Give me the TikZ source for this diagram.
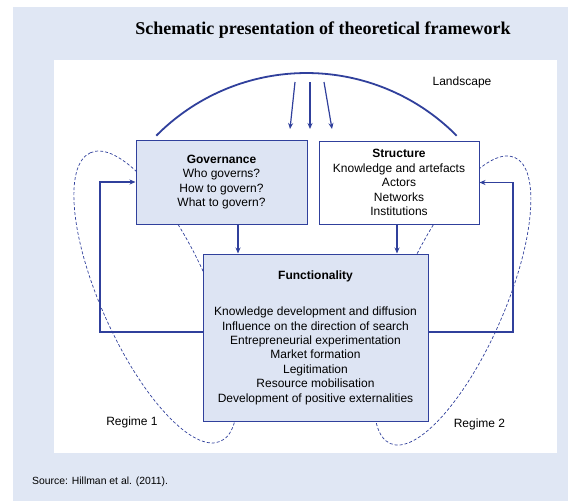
\documentclass[tikz,border=0pt]{standalone}
\usepackage{fontspec}
\setmainfont{Liberation Sans}
\newfontfamily\titlefont{Liberation Serif}
\usetikzlibrary{arrows.meta}
\definecolor{bgblue}{RGB}{224,231,244}
\definecolor{boxblue}{RGB}{221,228,243}
\definecolor{lineblue}{RGB}{48,64,156}
\begin{document}
\begin{tikzpicture}[x=1pt,y=-1pt,
  box/.style={draw=lineblue, line width=1pt, inner sep=0pt, align=center, font=\fontsize{12}{14.4}\selectfont},
  conn/.style={draw=lineblue, line width=1.2pt, -{Stealth[length=6pt,width=5pt]}},
  solidline/.style={draw=lineblue, line width=1.8pt},
  regime/.style={draw=lineblue, line width=0.7pt, dash pattern=on 3pt off 2pt},
  lbl/.style={font=\fontsize{12}{14.4}\selectfont, inner sep=0pt}]
\useasboundingbox (0,0) rectangle (568,501);
\fill[bgblue] (13,7) rectangle (568,501);
\fill[white] (54,60) rectangle (557,453);
\node[inner sep=0pt, anchor=base, font=\titlefont\fontsize{18}{20}\selectfont\bfseries] (title) at (323,34) {Schematic presentation of theoretical framework};
% regimes
\draw[regime, rotate around={114.3:(155.5,297)}] (155.5,297) ellipse [x radius=158.3, y radius=54];
\draw[regime, rotate around={66.5:(452.5,300.5)}] (452.5,300.5) ellipse [x radius=156, y radius=52];
% landscape arc
\coordinate (arcL) at (156.3,135.7);
\draw[solidline] (arcL) arc[start angle=-135.3, end angle=-44.7, radius=211.3];
\coordinate (la1) at (295,82); \coordinate (lb1) at (290,129);
\coordinate (la2) at (310,82); \coordinate (lb2) at (310,129);
\coordinate (la3) at (324,82); \coordinate (lb3) at (332,129);
\draw[conn] (la1) -- (lb1);
\draw[conn] (la2) -- (lb2);
\draw[conn] (la3) -- (lb3);
% boxes
\node[box, fill=boxblue, minimum width=171pt, minimum height=84pt] (gov) at (221.5,182) {\textbf{Governance}\\Who governs?\\How to govern?\\What to govern?};
\node[box, fill=white, minimum width=160pt, minimum height=83pt] (str) at (399,182.5) {\textbf{Structure}\\Knowledge and artefacts\\Actors\\Networks\\Institutions};
\node[box, fill=boxblue, minimum width=225pt, minimum height=167pt] (func) at (315.5,337.5) {\textbf{Functionality}\\[22.3pt]Knowledge development and diffusion\\Influence on the direction of search\\Entrepreneurial experimentation\\Market formation\\Legitimation\\Resource mobilisation\\Development of positive externalities};
% labels
\node[lbl] (land) at (462,82) {Landscape};
\node[lbl] (reg1) at (132,422) {Regime 1};
\node[lbl] (reg2) at (479.5,424) {Regime 2};
\node[inner sep=0pt, anchor=west, font=\fontsize{10.4}{12}\selectfont] (src) at (32,482) {Source: Hillman et al. (2011).};
% connectors
\coordinate (l1) at (100,332);
\coordinate (r1) at (513,332);
\draw[conn] (func.west |- l1) -- (l1) |- (gov.west);
\draw[conn] (func.east |- r1) -- (r1) |- (str.east);
\draw[conn] ([xshift=16.5pt]gov.south) -- ([xshift=16.5pt]gov.south |- func.north);
\draw[conn] ([xshift=-2pt]str.south) -- ([xshift=-2pt]str.south |- func.north);
\end{tikzpicture}
\end{document}
